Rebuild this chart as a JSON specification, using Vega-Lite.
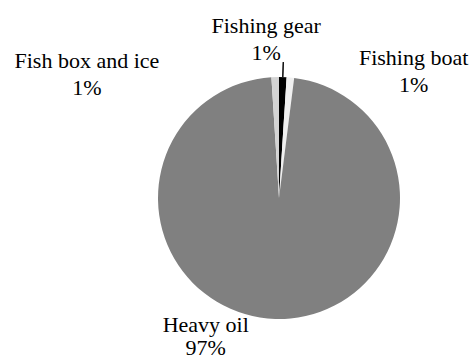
{
  "$schema": "https://vega.github.io/schema/vega-lite/v6.json",
  "width": 390,
  "height": 328,
  "autosize": {"type": "none"},
  "padding": {"left": 84, "top": 34, "right": 0, "bottom": 0},
  "background": "white",
  "config": {
    "view": {"stroke": null},
    "text": {"font": "Liberation Serif", "fontSize": 22, "color": "#000000", "align": "center", "baseline": "alphabetic"}
  },
  "data": {
    "values": [
      {"item": "Fishing gear", "share": 1},
      {"item": "Fishing boat", "share": 1},
      {"item": "Heavy oil", "share": 97},
      {"item": "Fish box and ice", "share": 1}
    ]
  },
  "transform": [
    {"window": [{"op": "row_number", "as": "seq"}]},
    {"calculate": "[datum.item, format(datum.share / 100, '.0%')]", "as": "label"}
  ],
  "encoding": {
    "theta": {"field": "share", "type": "quantitative", "stack": true},
    "order": {"field": "seq", "type": "quantitative"}
  },
  "layer": [
    {
      "mark": {"type": "arc", "outerRadius": 121},
      "encoding": {
        "color": {
          "field": "item",
          "type": "nominal",
          "scale": {
            "domain": ["Fishing gear", "Fishing boat", "Heavy oil", "Fish box and ice"],
            "range": ["#000000", "#f0f0f0", "#808080", "#d4d4d4"]
          },
          "legend": null
        }
      }
    },
    {
      "mark": {"type": "arc", "innerRadius": 121, "outerRadius": 136, "padAngle": 1, "fillOpacity": 0, "stroke": "#000000", "strokeWidth": 1},
      "encoding": {
        "strokeOpacity": {"condition": {"test": "datum.item === 'Fishing gear'", "value": 1}, "value": 0}
      }
    },
    {
      "mark": {"type": "text", "radius": 165, "dx": -18, "lineHeight": 27},
      "encoding": {
        "text": {"field": "label", "type": "nominal"},
        "opacity": {"condition": {"test": "datum.item === 'Fishing gear'", "value": 1}, "value": 0}
      }
    },
    {
      "mark": {"type": "text", "radius": 134, "dx": 122, "lineHeight": 27},
      "encoding": {
        "text": {"field": "label", "type": "nominal"},
        "opacity": {"condition": {"test": "datum.item === 'Fishing boat'", "value": 1}, "value": 0}
      }
    },
    {
      "mark": {"type": "text", "radius": 130, "dx": -188, "lineHeight": 27},
      "encoding": {
        "text": {"field": "label", "type": "nominal"},
        "opacity": {"condition": {"test": "datum.item === 'Fish box and ice'", "value": 1}, "value": 0}
      }
    },
    {
      "mark": {"type": "text", "radius": 136, "dx": -69, "dy": -2, "lineHeight": 23},
      "encoding": {
        "text": {"field": "label", "type": "nominal"},
        "opacity": {"condition": {"test": "datum.item === 'Heavy oil'", "value": 1}, "value": 0}
      }
    }
  ]
}
